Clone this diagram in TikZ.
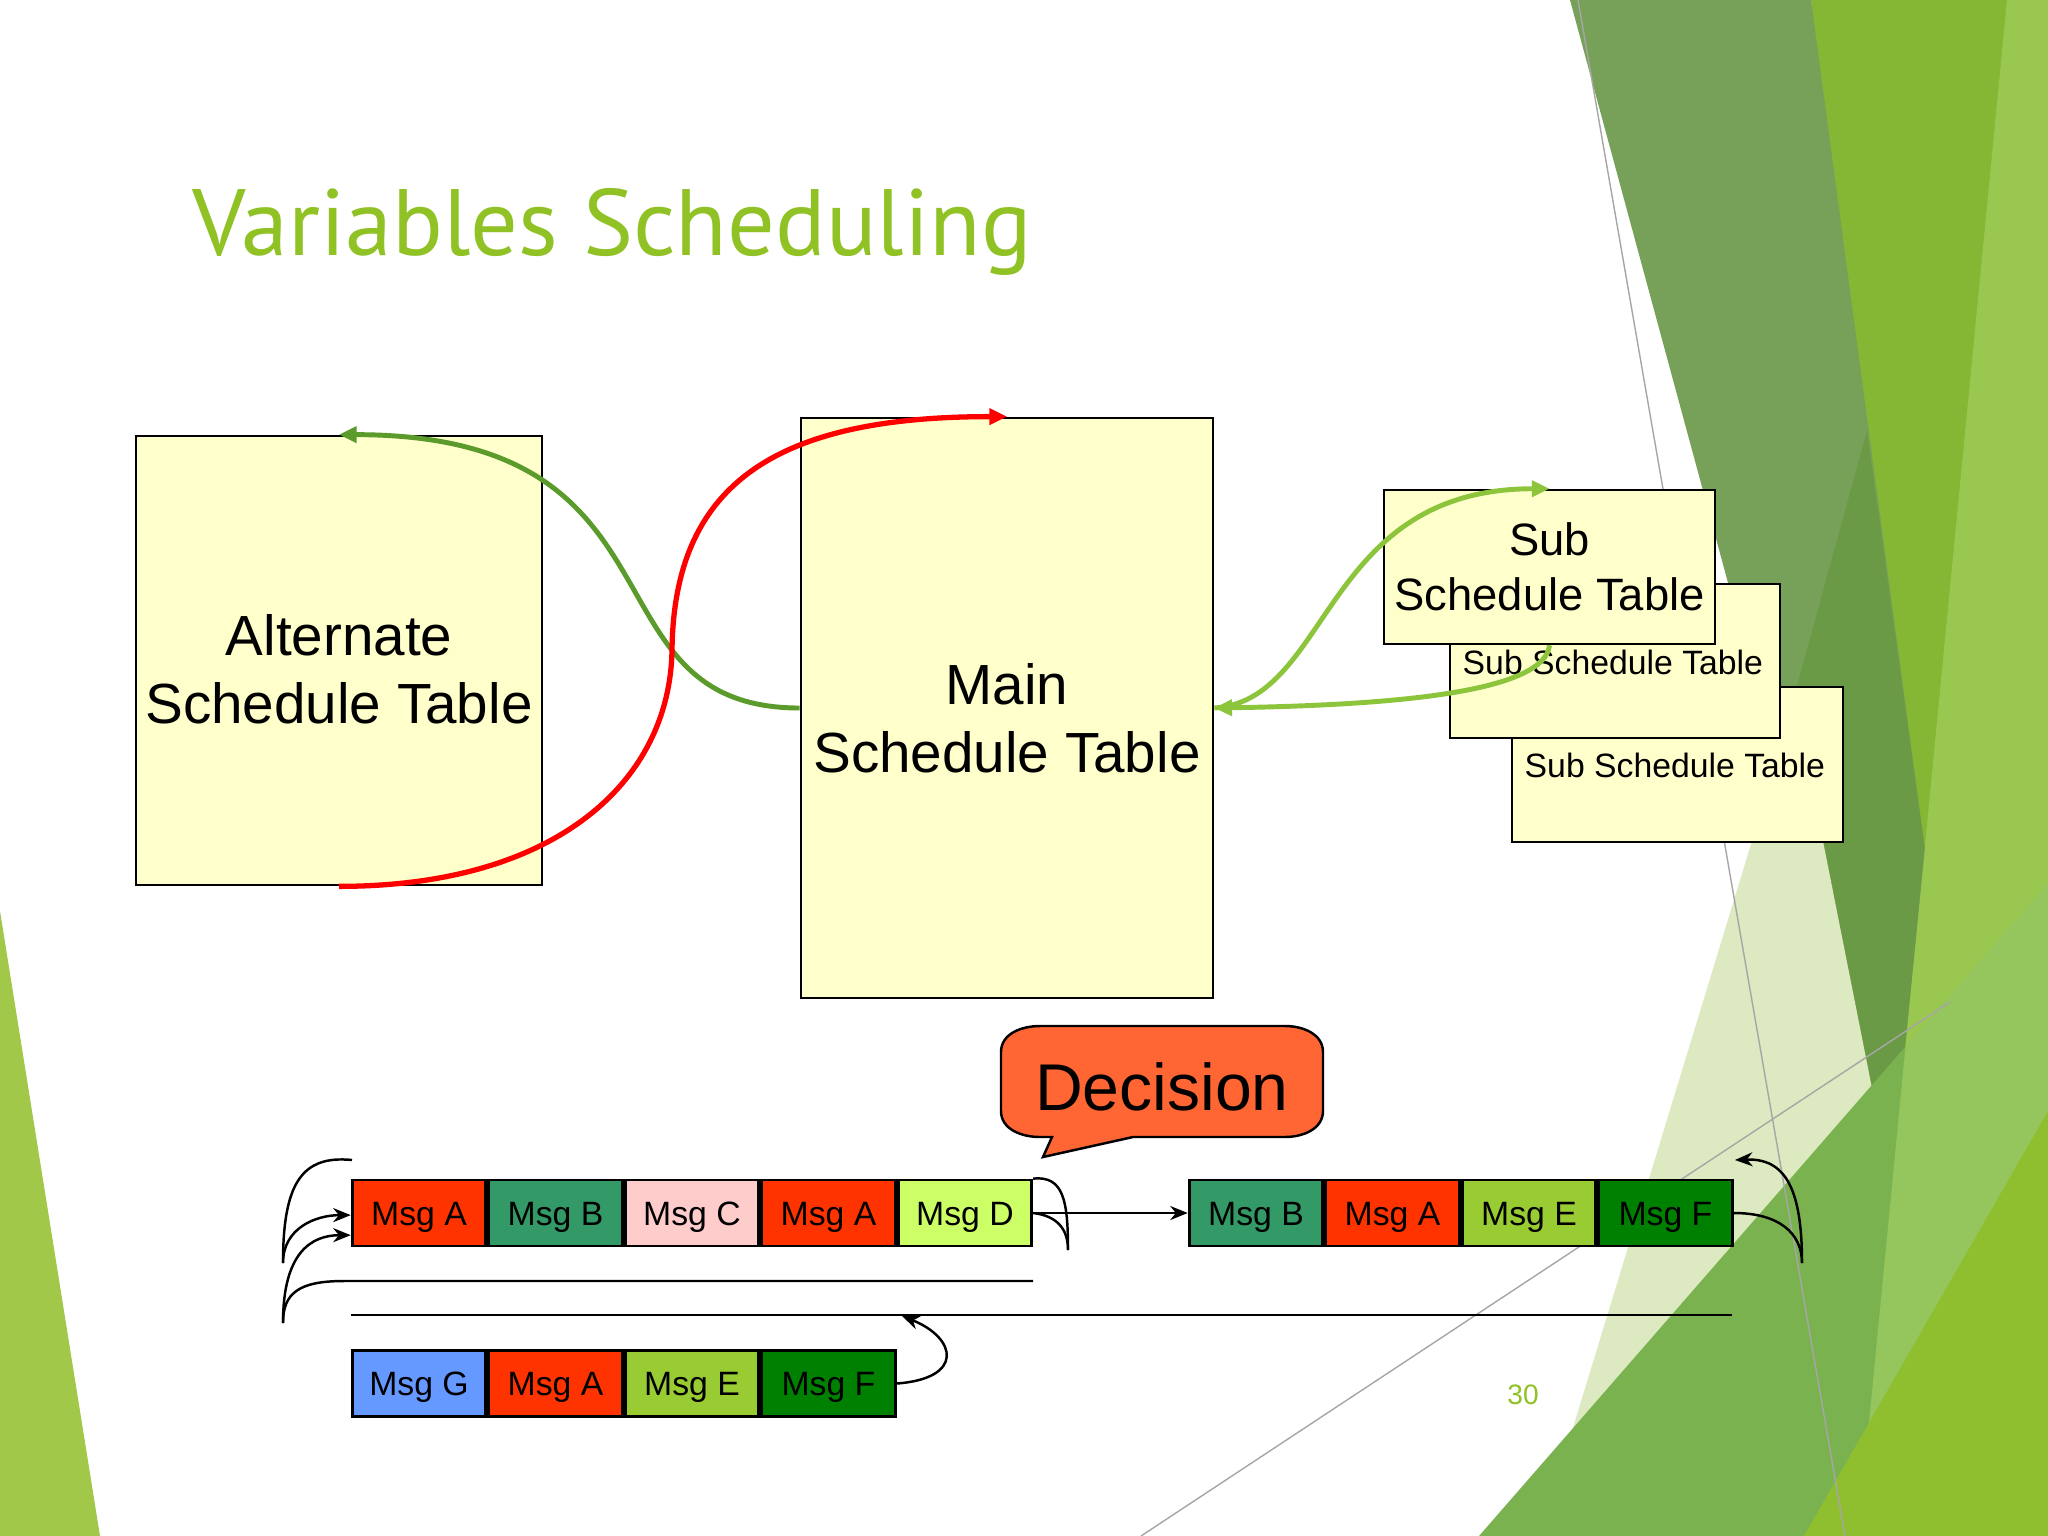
\documentclass[tikz,border=0pt]{standalone}
\usepackage{fontspec}
\setmainfont{Liberation Sans}
\newfontfamily\titlefont{PT Sans}
\usepackage{tikz}
\usetikzlibrary{positioning,arrows.meta,calc}

\definecolor{tablefill}{HTML}{FFFFCC}
\definecolor{titlegreen}{HTML}{90C226}
\definecolor{altgreen}{HTML}{5B9B2B}
\definecolor{subgreen}{HTML}{8CC43C}
\definecolor{decisionorange}{HTML}{FF6633}
\definecolor{msgA}{HTML}{FF3300}
\definecolor{msgB}{HTML}{339966}
\definecolor{msgC}{HTML}{FFCCCC}
\definecolor{msgD}{HTML}{CCFF66}
\definecolor{msgE}{HTML}{99CC33}
\definecolor{msgF}{HTML}{008000}
\definecolor{msgG}{HTML}{6699FF}
% background facets
\definecolor{bgleft}{HTML}{A1C848}
\definecolor{bgbright}{HTML}{85B734}
\definecolor{bgstrip}{HTML}{B0D86A}
\definecolor{bgolive}{HTML}{77A058}
\definecolor{bgdark}{HTML}{6A9A45}
\definecolor{bgpale}{HTML}{DDE9C0}
\definecolor{bgmid}{HTML}{7AB250}
\definecolor{bgyellow}{HTML}{8FBF2F}

\tikzset{
  schedbox/.style={draw, line width=0.7pt, fill=tablefill, inner sep=0pt},
  bigtext/.style={font=\fontsize{16.1}{19.3}\selectfont, align=center},
  subtext/.style={font=\fontsize{9.6}{11.5}\selectfont, inner sep=0pt},
  msgcell/.style={draw, line width=0.8pt, minimum width=1.336cm, minimum height=0.66cm,
    inner sep=0pt, text height=6.9pt, text depth=0pt, font=\fontsize{9.6}{11.5}\selectfont},
  flow/.style={line width=0.7pt},
  bigtip/.style={-{Triangle[length=5pt,width=4.5pt]}},
  smalltip/.style={-{Stealth[length=5pt,width=4pt]}},
  bgline/.style={draw=gray!70, line width=0.4pt},
}

\begin{document}
\begin{tikzpicture}[x=0.01cm, y=-0.01cm]
        \useasboundingbox (0,0) rectangle (2048,1536);
        \fill[white] (0,0) rectangle (2048,1536);
        % green facets of the slide
        \fill[bgleft] (0,911) -- (100,1536) -- (0,1536) -- cycle;
        \fill[bgbright] (1811,0) -- (2048,0) -- (2048,1536) -- (1700,1536) -- (1891,1184) -- cycle;
        \fill[bgolive] (1570,0) -- (1811,0) -- (1925,850) -- (1891,1184) -- cycle;
        \fill[bgdark] (1867,431) -- (1925,850) -- (1891,1184) -- (1800,841) -- (1797,686) -- cycle;
        \fill[bgpale] (1795,700) -- (1891,1184) -- (1540,1536) -- cycle;
        \fill[bgmid] (1479,1536) -- (2048,883) -- (2048,1536) -- cycle;
        \fill[bgstrip, opacity=0.5] (2007,0) -- (2048,0) -- (2048,1536) -- (1858,1536) -- cycle;
        \fill[bgyellow] (1804,1536) -- (2048,1111) -- (2048,1536) -- cycle;
        \draw[bgline] (1578,0) -- (1845,1536);
        \draw[bgline] (1141,1536) -- (1950,1002);

        \node[font=\titlefont\fontsize{26.8}{32}\selectfont, text=titlegreen, anchor=base west, inner sep=0pt]
          (title) at (192,255) {Variables Scheduling};

        % schedule tables
        \node[schedbox, minimum width=4.06cm, minimum height=4.49cm] (alt) at (339,660.5) {};
        \node[bigtext] (alttxt) at ([yshift=-2.6pt]alt.center) {Alternate\\Schedule Table};
        \node[schedbox, minimum width=4.12cm, minimum height=5.80cm] (main) at (1007,708) {};
        \node[bigtext] (maintxt) at ([yshift=-2.8pt]main.center) {Main\\Schedule Table};

        \node[schedbox, minimum width=3.31cm, minimum height=1.55cm] (sub3) at (1677.5,764.5) {};
        \node[subtext, anchor=base west] (sub3txt) at (1524,777) {Sub Schedule Table};
        \node[schedbox, minimum width=3.30cm, minimum height=1.54cm] (sub2) at (1615,661) {};
        \node[subtext, anchor=base west] (sub2txt) at (1462,674) {Sub Schedule Table};
        \node[schedbox, minimum width=3.31cm, minimum height=1.54cm, align=center,
          font=\fontsize{12.9}{15.6}\selectfont] (sub1) at (1549.5,567) {Sub\\Schedule Table};

        % switching between the tables
        \coordinate (redmid) at (672,650);
        \draw[bigtip, altgreen, line width=1.4pt] (main.west) .. controls +(-221,0) and +(359,0) .. (alt.north);
        \draw[bigtip, red, line width=1.5pt] (alt.south) .. controls +(219,0) and +(-2,130) .. (redmid)
          .. controls +(2,-170) and +(-226,0) .. (main.north);
        \draw[bigtip, subgreen, line width=1.4pt] (main.east) .. controls +(117,-8) and +(-228,0) .. (sub1.north);
        \draw[bigtip, subgreen, line width=1.4pt] (sub1.south) .. controls +(-5,46) and +(187,-3) .. (main.east);

        % decision callout
        \draw[fill=decisionorange, line width=0.7pt] (1040,1026) -- (1285,1026) to[out=0,in=90] (1323,1052)
          -- (1323,1111) to[out=-90,in=0] (1285,1137) -- (1133,1137) -- (1043,1157) -- (1052,1137)
          -- (1040,1137) to[out=180,in=-90] (1001,1111) -- (1001,1052) to[out=90,in=180] (1040,1026) -- cycle;
        \node[font=\fontsize{18.8}{22}\selectfont, anchor=base, inner sep=0pt] (decision) at (1162,1110) {Decision};

        % message rows
        \node[msgcell, fill=msgA] (mainA) at (419,1213) {Msg A};
        \node[msgcell, fill=msgB, right=0pt of mainA] (mainB) {Msg B};
        \node[msgcell, fill=msgC, right=0pt of mainB] (mainC) {Msg C};
        \node[msgcell, fill=msgA, right=0pt of mainC] (mainA2) {Msg A};
        \node[msgcell, fill=msgD, right=0pt of mainA2] (mainD) {Msg D};

        \node[msgcell, fill=msgB] (subB) at (1256,1213) {Msg B};
        \node[msgcell, fill=msgA, right=0pt of subB] (subA) {Msg A};
        \node[msgcell, fill=msgE, right=0pt of subA] (subE) {Msg E};
        \node[msgcell, fill=msgF, right=0pt of subE] (subF) {Msg F};

        \node[msgcell, fill=msgG] (altG) at (419,1383.5) {Msg G};
        \node[msgcell, fill=msgA, right=0pt of altG] (altA) {Msg A};
        \node[msgcell, fill=msgE, right=0pt of altA] (altE) {Msg E};
        \node[msgcell, fill=msgF, right=0pt of altE] (altF) {Msg F};

        % loops and lines
        \coordinate (hooktop) at (352,1160);
        \coordinate (leftbar) at (283,1263);
        \coordinate (leftend) at (283,1323);
        \coordinate (lineoneL) at (344,1281);
        \coordinate (lineoneR) at (1033,1281);
        \coordinate (linetwoL) at (351,1315);
        \coordinate (linetwoR) at (1732,1315);
        \coordinate (loopback) at (902,1316);
        \coordinate (rightbar) at (1068,1250);
        \coordinate (farbar) at (1802,1263);
        \coordinate (fartip) at (1735,1160);

        \draw[flow] (hooktop) .. controls +(-50,-5) and +(0,-80) .. (leftbar);
        \draw[flow, smalltip] (leftbar) .. controls +(0,-35) and +(-35,0) .. ([yshift=-0.6pt]mainA.west);
        \draw[flow, smalltip] (leftend) .. controls +(0,-70) and +(-40,0) .. ([yshift=-6.3pt]mainA.west);
        \draw[flow] (lineoneR) -- (lineoneL) .. controls +(-45,0) and +(0,-30) .. (leftend);
        \draw[flow] (linetwoL) -- (linetwoR);

        \draw[flow, smalltip] (mainD.east) -- (subB.west);
        \draw[flow] (mainD.north east) .. controls +(30,-3) and +(0,-50) .. (rightbar);
        \draw[flow] (mainD.east) .. controls +(25,3) and +(0,-20) .. (rightbar);

        \draw[flow] (subF.east) .. controls +(45,0) and +(0,-30) .. (farbar);
        \draw[flow, smalltip] (farbar) .. controls +(0,-75) and +(50,-2) .. (fartip);

        \draw[flow, smalltip] (altF.east) .. controls +(68,-5) and +(55,22) .. (loopback);

        \node[font=\fontsize{8}{9}\selectfont, text=titlegreen] (pagenum) at (1523,1395) {30};
      \end{tikzpicture}
\end{document}
